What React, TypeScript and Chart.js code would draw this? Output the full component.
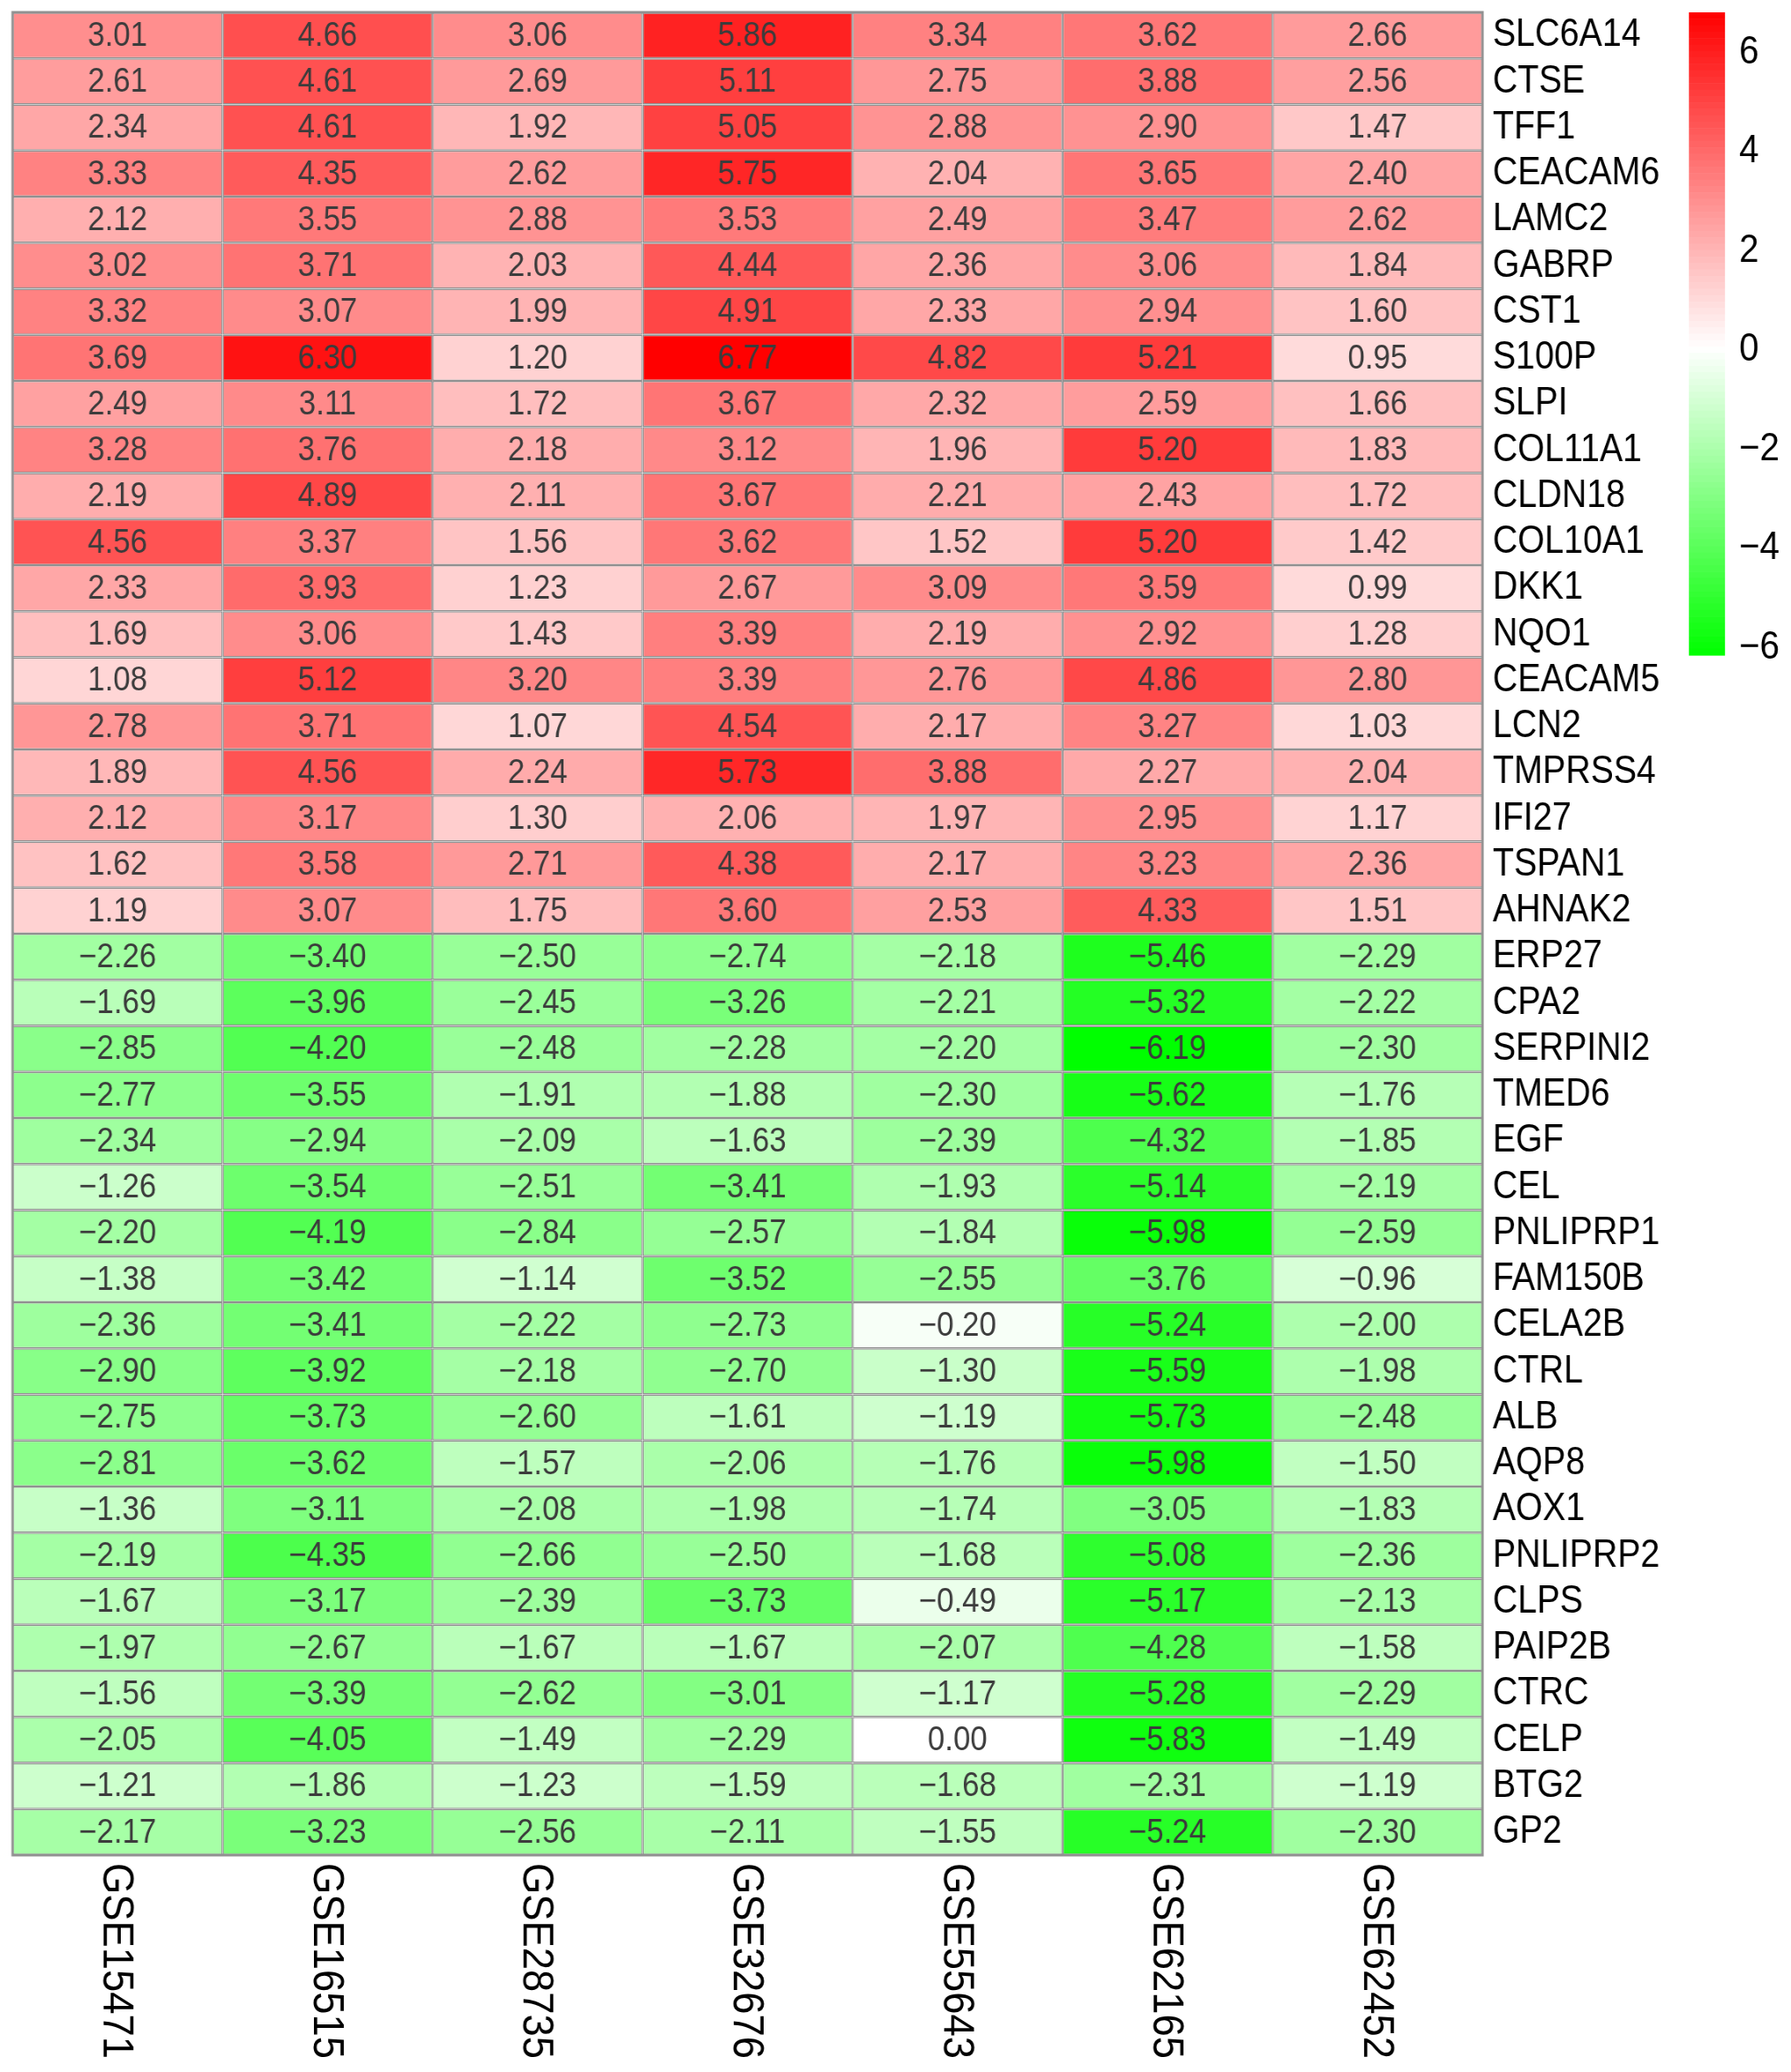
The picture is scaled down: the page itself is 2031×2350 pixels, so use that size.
import { useEffect, useRef } from "react";
import { Chart, registerables } from "chart.js";

Chart.register(...registerables);

const genes = [
  "SLC6A14", "CTSE", "TFF1", "CEACAM6", "LAMC2", "GABRP", "CST1", "S100P", "SLPI", "COL11A1",
  "CLDN18", "COL10A1", "DKK1", "NQO1", "CEACAM5", "LCN2", "TMPRSS4", "IFI27", "TSPAN1", "AHNAK2",
  "ERP27", "CPA2", "SERPINI2", "TMED6", "EGF", "CEL", "PNLIPRP1", "FAM150B", "CELA2B", "CTRL",
  "ALB", "AQP8", "AOX1", "PNLIPRP2", "CLPS", "PAIP2B", "CTRC", "CELP", "BTG2", "GP2",
];

const datasetNames = ["GSE15471", "GSE16515", "GSE28735", "GSE32676", "GSE55643", "GSE62165", "GSE62452"];

const gse15471 = [3.01, 2.61, 2.34, 3.33, 2.12, 3.02, 3.32, 3.69, 2.49, 3.28, 2.19, 4.56, 2.33, 1.69, 1.08, 2.78, 1.89, 2.12, 1.62, 1.19,
  -2.26, -1.69, -2.85, -2.77, -2.34, -1.26, -2.2, -1.38, -2.36, -2.9, -2.75, -2.81, -1.36, -2.19, -1.67, -1.97, -1.56, -2.05, -1.21, -2.17];
const gse16515 = [4.66, 4.61, 4.61, 4.35, 3.55, 3.71, 3.07, 6.3, 3.11, 3.76, 4.89, 3.37, 3.93, 3.06, 5.12, 3.71, 4.56, 3.17, 3.58, 3.07,
  -3.4, -3.96, -4.2, -3.55, -2.94, -3.54, -4.19, -3.42, -3.41, -3.92, -3.73, -3.62, -3.11, -4.35, -3.17, -2.67, -3.39, -4.05, -1.86, -3.23];
const gse28735 = [3.06, 2.69, 1.92, 2.62, 2.88, 2.03, 1.99, 1.2, 1.72, 2.18, 2.11, 1.56, 1.23, 1.43, 3.2, 1.07, 2.24, 1.3, 2.71, 1.75,
  -2.5, -2.45, -2.48, -1.91, -2.09, -2.51, -2.84, -1.14, -2.22, -2.18, -2.6, -1.57, -2.08, -2.66, -2.39, -1.67, -2.62, -1.49, -1.23, -2.56];
const gse32676 = [5.86, 5.11, 5.05, 5.75, 3.53, 4.44, 4.91, 6.77, 3.67, 3.12, 3.67, 3.62, 2.67, 3.39, 3.39, 4.54, 5.73, 2.06, 4.38, 3.6,
  -2.74, -3.26, -2.28, -1.88, -1.63, -3.41, -2.57, -3.52, -2.73, -2.7, -1.61, -2.06, -1.98, -2.5, -3.73, -1.67, -3.01, -2.29, -1.59, -2.11];
const gse55643 = [3.34, 2.75, 2.88, 2.04, 2.49, 2.36, 2.33, 4.82, 2.32, 1.96, 2.21, 1.52, 3.09, 2.19, 2.76, 2.17, 3.88, 1.97, 2.17, 2.53,
  -2.18, -2.21, -2.2, -2.3, -2.39, -1.93, -1.84, -2.55, -0.2, -1.3, -1.19, -1.76, -1.74, -1.68, -0.49, -2.07, -1.17, 0.0, -1.68, -1.55];
const gse62165 = [3.62, 3.88, 2.9, 3.65, 3.47, 3.06, 2.94, 5.21, 2.59, 5.2, 2.43, 5.2, 3.59, 2.92, 4.86, 3.27, 2.27, 2.95, 3.23, 4.33,
  -5.46, -5.32, -6.19, -5.62, -4.32, -5.14, -5.98, -3.76, -5.24, -5.59, -5.73, -5.98, -3.05, -5.08, -5.17, -4.28, -5.28, -5.83, -2.31, -5.24];
const gse62452 = [2.66, 2.56, 1.47, 2.4, 2.62, 1.84, 1.6, 0.95, 1.66, 1.83, 1.72, 1.42, 0.99, 1.28, 2.8, 1.03, 2.04, 1.17, 2.36, 1.51,
  -2.29, -2.22, -2.3, -1.76, -1.85, -2.19, -2.59, -0.96, -2.0, -1.98, -2.48, -1.5, -1.83, -2.36, -2.13, -1.58, -2.29, -1.49, -1.19, -2.3];

const columns = [gse15471, gse16515, gse28735, gse32676, gse55643, gse62165, gse62452];

const colorbarTicks = [6, 4, 2, 0, -2, -4, -6];

const FONT = "'Liberation Sans', Arial, Helvetica, sans-serif";
const SX = 0.89;
const W_INT = 2264;
const H = 2334;

const allVals = columns.flat();
const vMax = Math.max(...allVals);
const vMin = Math.min(...allVals);

function colorFor(v: number): string {
  if (v >= 0) {
    const t = Math.min(1, v / vMax);
    const c = Math.round(255 * (1 - t));
    return `rgb(255,${c},${c})`;
  }
  const t = Math.min(1, v / vMin);
  const c = Math.round(255 * (1 - t));
  return `rgb(${c},255,${c})`;
}

function fmt(v: number): string {
  const s = Math.abs(v).toFixed(2);
  return v < 0 ? "\u2212" + s : s;
}

const heatPlugin = {
  id: "heatExtras",
  afterDatasetsDraw(chart: any) {
    const { ctx, chartArea } = chart;
    // cell labels
    ctx.save();
    ctx.font = `39px ${FONT}`;
    ctx.fillStyle = "#3c3c3c";
    ctx.textAlign = "center";
    ctx.textBaseline = "middle";
    chart.data.datasets.forEach((ds: any, j: number) => {
      const meta = chart.getDatasetMeta(j);
      meta.data.forEach((el: any, i: number) => {
        const v = ds.values[i];
        const cx = (el.x + el.base) / 2;
        ctx.fillText(fmt(v), cx, el.y + 1);
      });
    });
    ctx.restore();

    // outer frame
    ctx.save();
    ctx.strokeStyle = "rgb(145,145,145)";
    ctx.lineWidth = 3;
    ctx.strokeRect(chartArea.left, chartArea.top, chartArea.right - chartArea.left, chartArea.bottom - chartArea.top);
    ctx.restore();

    // column labels (rotated, reading top to bottom)
    const xScale = chart.scales.x;
    ctx.save();
    ctx.font = `56px ${FONT}`;
    ctx.fillStyle = "#000";
    ctx.textAlign = "left";
    ctx.textBaseline = "middle";
    datasetNames.forEach((name, j) => {
      const x = xScale.getPixelForValue(j + 0.5);
      ctx.save();
      ctx.translate(x, chartArea.bottom + 9);
      ctx.rotate(Math.PI / 2);
      ctx.scale(0.81, 1);
      ctx.fillText(name, 0, 2);
      ctx.restore();
    });
    ctx.restore();

    // colour bar
    const barLeft = 2143;
    const barW = 46;
    const top = chartArea.top;
    const barH = (chartArea.bottom - chartArea.top) * (729 / 2090);
    const yFor = (v: number) => top + ((vMax - v) / (vMax - vMin)) * barH;
    const steps = 100;
    ctx.save();
    for (let k = 0; k < steps; k++) {
      const v0 = vMax - ((vMax - vMin) * k) / steps;
      const v1 = vMax - ((vMax - vMin) * (k + 1)) / steps;
      const mid = (v0 + v1) / 2;
      ctx.fillStyle = colorFor(mid);
      const y0 = yFor(v0);
      const y1 = yFor(v1);
      ctx.fillRect(barLeft, y0, barW, y1 - y0 + 0.6);
    }
    ctx.font = `45px ${FONT}`;
    ctx.fillStyle = "#000";
    ctx.textAlign = "left";
    ctx.textBaseline = "middle";
    colorbarTicks.forEach((t) => {
      ctx.fillText(t < 0 ? "\u2212" + Math.abs(t) : String(t), barLeft + barW + 18, yFor(t) + 2);
    });
    ctx.restore();
  },
};

export default function App() {
  const ref = useRef<HTMLCanvasElement | null>(null);

  useEffect(() => {
    if (!ref.current) return;
    const chart = new Chart(ref.current, {
      type: "bar",
      data: {
        labels: genes,
        datasets: columns.map((col, j) => ({
          label: datasetNames[j],
          data: col.map(() => 1),
          values: col,
          backgroundColor: col.map(colorFor),
          borderColor: "rgb(145,145,145)",
          borderWidth: 1.5,
          borderSkipped: false,
          inflateAmount: 0,
          barPercentage: 1,
          categoryPercentage: 1,
        })) as any,
      },
      options: {
        indexAxis: "y",
        animation: false,
        responsive: false,
        devicePixelRatio: 1,
        layout: { padding: { left: 7, top: 6, right: 0, bottom: 238 } },
        plugins: { legend: { display: false }, tooltip: { enabled: false } },
        scales: {
          x: {
            type: "linear",
            stacked: true,
            min: 0,
            max: datasetNames.length,
            display: false,
          },
          y: {
            type: "category",
            position: "right",
            stacked: true,
            grid: { display: false, drawTicks: false },
            border: { display: false },
            ticks: {
              font: { family: FONT, size: 44 },
              color: "#000",
              padding: 13,
              autoSkip: false,
            },
            afterFit: (scale: any) => {
              scale.width = 384;
              scale.paddingTop = 0;
              scale.paddingBottom = 0;
            },
          },
        },
      },
      plugins: [heatPlugin],
    });
    return () => chart.destroy();
  }, []);

  return (
    <div style={{ width: 2015, height: H, overflow: "hidden" }}>
      <div style={{ width: W_INT, height: H, transform: `scaleX(${SX})`, transformOrigin: "0 0" }}>
        <canvas ref={ref} width={W_INT} height={H} style={{ display: "block", width: W_INT, height: H }} />
      </div>
    </div>
  );
}
